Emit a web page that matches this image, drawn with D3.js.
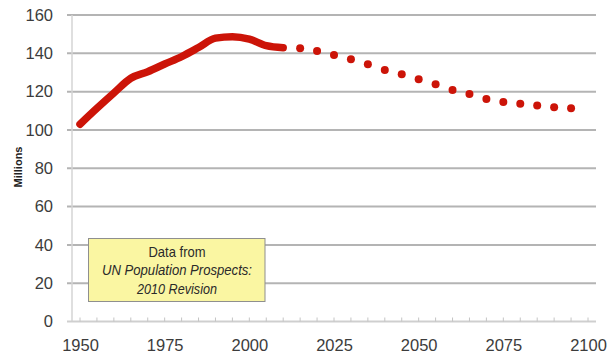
<!DOCTYPE html>
<html>
<head>
<meta charset="utf-8">
<script src="https://cdn.jsdelivr.net/npm/d3@7"></script>
<style>
  html, body { margin: 0; padding: 0; background: #fff; }
  svg { display: block; font-family: "Liberation Sans", Arial, sans-serif; }
</style>
</head>
<body>
<svg id="chart" width="616" height="356"></svg>
<script>
// ---- data ----
const histYears  = [1950, 1955, 1960, 1965, 1970, 1975, 1980, 1985, 1990, 1995, 2000, 2005, 2010];
const histValues = [103.0, 111.3, 119.3, 127.0, 130.4, 134.4, 138.3, 143.0, 147.9, 148.7, 147.4, 144.0, 142.9];
const projYears  = [2015, 2020, 2025, 2030, 2035, 2040, 2045, 2050, 2055, 2060, 2065, 2070, 2075, 2080, 2085, 2090, 2095];
const projValues = [142.6, 141.2, 139.1, 136.9, 134.3, 131.3, 129.1, 126.4, 123.8, 120.9, 118.8, 116.2, 114.6, 113.7, 112.7, 111.8, 111.3];
const yTicks     = [0, 20, 40, 60, 80, 100, 120, 140, 160];
const xTickLabels = [1950, 1975, 2000, 2025, 2050, 2075, 2100];
const minorTickYears = d3.range(1950, 2101, 5);
const yAxisTitle = "Millions";
const noteLines = ["Data from", "UN Population Prospects:", "2010 Revision"];

// ---- layout ----
const svg = d3.select("#chart");
const x = d3.scaleLinear().domain([1950, 2100]).range([80, 588]);
const y = d3.scaleLinear().domain([0, 160]).range([321.5, 15]);
const axisLeftX = 72, axisRightX = 596;
const red = "#cc1408";

// gridlines
svg.append("g").selectAll("line")
  .data(yTicks.filter(d => d > 0))
  .join("line")
  .attr("x1", 67).attr("x2", axisRightX)
  .attr("y1", d => y(d)).attr("y2", d => y(d))
  .attr("stroke", "#b4b4b4").attr("stroke-width", 2);

// y axis line
svg.append("line")
  .attr("x1", axisLeftX).attr("x2", axisLeftX)
  .attr("y1", y(160)).attr("y2", y(0))
  .attr("stroke", "#d4d4d4").attr("stroke-width", 1.5);

// x axis line
svg.append("line")
  .attr("x1", 67).attr("x2", axisRightX)
  .attr("y1", y(0)).attr("y2", y(0))
  .attr("stroke", "#cfcfcf").attr("stroke-width", 2);

// minor ticks
svg.append("g").selectAll("line")
  .data(minorTickYears)
  .join("line")
  .attr("x1", d => x(d)).attr("x2", d => x(d))
  .attr("y1", y(0)).attr("y2", y(0) - 4)
  .attr("stroke", "#c4c4c4").attr("stroke-width", 1);

// y axis labels
const yAxis = svg.append("g")
  .attr("transform", `translate(${axisLeftX},0)`)
  .call(d3.axisLeft(y).tickValues(yTicks).tickSize(0).tickPadding(19));
yAxis.select(".domain").remove();
yAxis.selectAll("text").attr("font-size", 16.5).attr("fill", "#3c3c3c")
  .attr("font-family", "Liberation Sans, Arial, sans-serif");

// x axis labels
const xAxis = svg.append("g")
  .attr("transform", `translate(0,${y(0)})`)
  .call(d3.axisBottom(x).tickValues(xTickLabels).tickFormat(d3.format("d")).tickSize(0).tickPadding(18));
xAxis.select(".domain").remove();
xAxis.selectAll("text").attr("font-size", 16.5).attr("fill", "#3c3c3c")
  .attr("font-family", "Liberation Sans, Arial, sans-serif");

// y axis title
svg.append("text")
  .attr("transform", "translate(22,167) rotate(-90)")
  .attr("text-anchor", "middle")
  .attr("font-size", 11).attr("font-weight", "bold").attr("fill", "#222")
  .text(yAxisTitle);

// historical line
const hist = histYears.map((yr, i) => ({ yr, v: histValues[i] }));
svg.append("path")
  .datum(hist)
  .attr("fill", "none")
  .attr("stroke", red)
  .attr("stroke-width", 7.5)
  .attr("stroke-linecap", "round")
  .attr("stroke-linejoin", "round")
  .attr("d", d3.line().x(d => x(d.yr)).y(d => y(d.v)).curve(d3.curveMonotoneX));

// projection dots
const proj = projYears.map((yr, i) => ({ yr, v: projValues[i] }));
svg.append("g").selectAll("circle")
  .data(proj)
  .join("circle")
  .attr("cx", d => x(d.yr)).attr("cy", d => y(d.v))
  .attr("r", 4)
  .attr("fill", red);

// note box
const box = svg.append("g");
box.append("rect")
  .attr("x", 88.5).attr("y", 238.5)
  .attr("width", 176.5).attr("height", 63)
  .attr("fill", "#faf6a2").attr("stroke", "#8f8f8f").attr("stroke-width", 1);
const noteWidths = [57, 150, 80];
const noteY = [256.5, 275, 293.5];
box.selectAll("text.note")
  .data(noteLines)
  .join("text")
  .attr("class", "note")
  .attr("x", 177).attr("y", (d, i) => noteY[i])
  .attr("text-anchor", "middle")
  .attr("font-size", 14.5)
  .attr("font-style", (d, i) => i === 0 ? "normal" : "italic")
  .attr("fill", "#2a2a2a")
  .attr("textLength", (d, i) => noteWidths[i])
  .attr("lengthAdjust", "spacingAndGlyphs")
  .text(d => d);
</script>
</body>
</html>
